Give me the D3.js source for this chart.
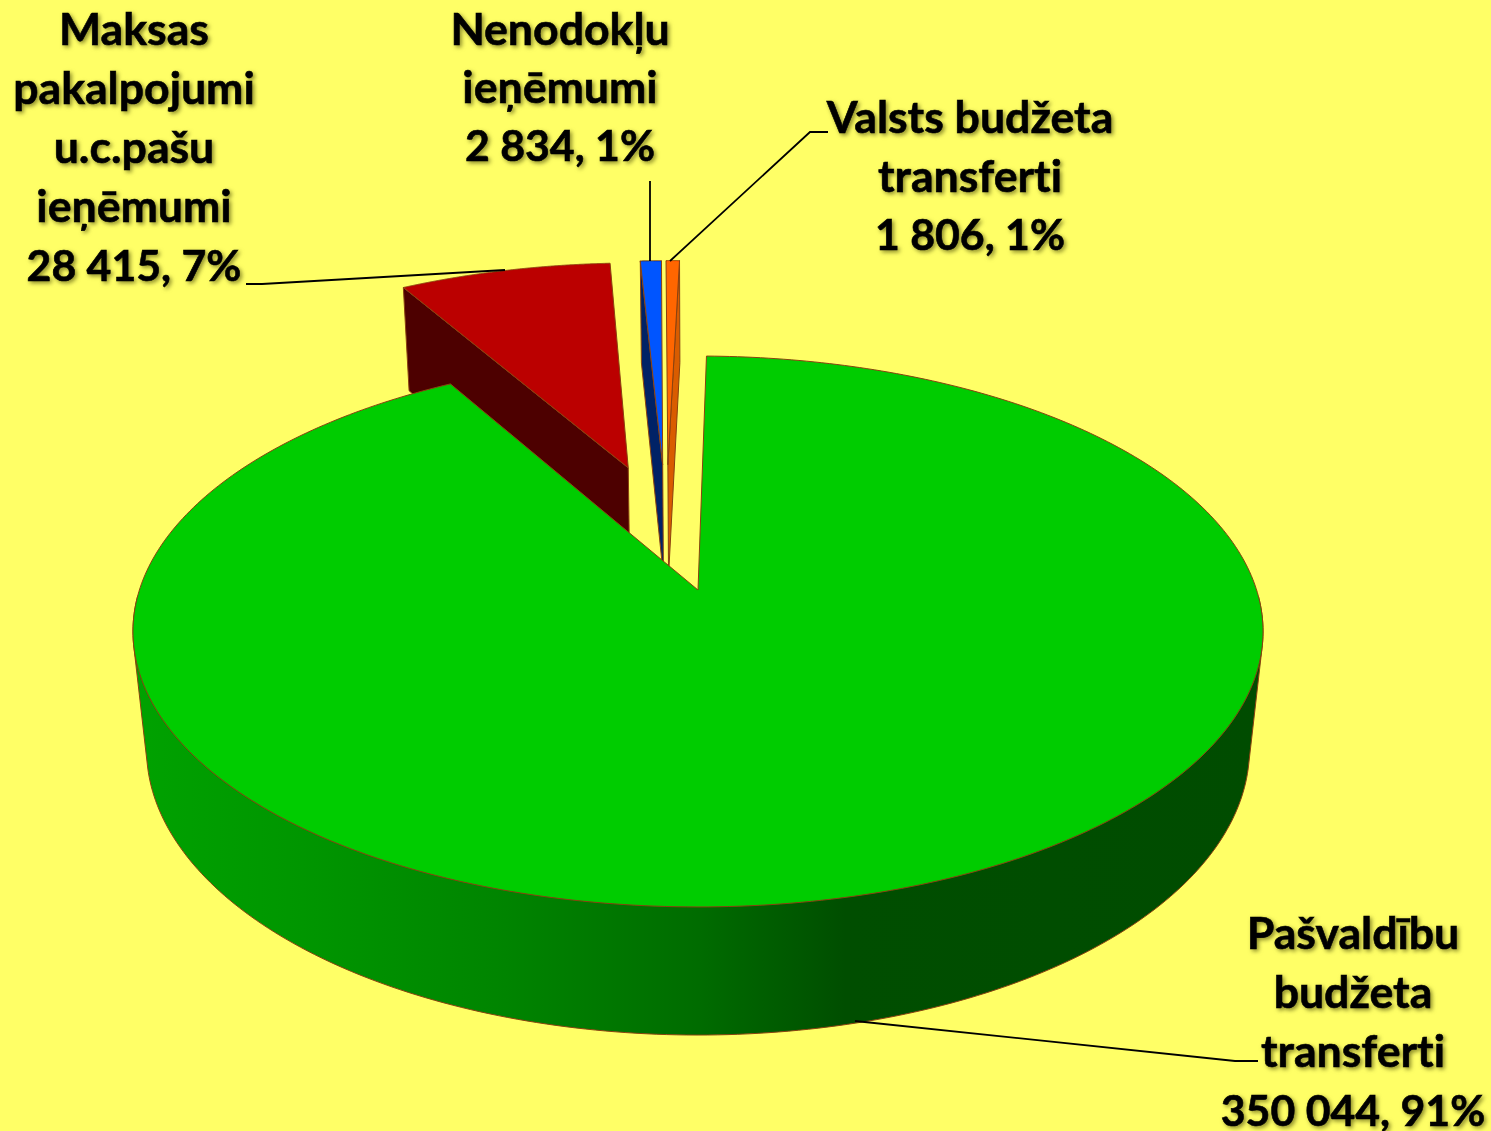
<!DOCTYPE html>
<html>
<head>
<meta charset="utf-8">
<script src="https://cdn.jsdelivr.net/npm/d3@7"></script>
<style>
	html, body { margin: 0; padding: 0; background: #ffff66; }
	svg { display: block; }
	.lab text {
		font-family: Lato, 'Open Sans', sans-serif;
		font-weight: 700;
		font-size: 44.6px;
		font-variant-ligatures: none;
		text-anchor: middle;
		fill: #000;
		stroke: #000;
		stroke-width: 0.6px;
	}
	.lab text.val { font-size: 42.8px; }
	.lab { filter: drop-shadow(2px 2px 2px rgba(60, 60, 0, 0.6)); }
</style>
</head>
<body>
<div id="chart"></div>
<script>
// NOTE chart data
var names = [
	'Pašvaldību budžeta transferti',
	'Maksas pakalpojumi u.c.pašu ieņēmumi',
	'Nenodokļu ieņēmumi',
	'Valsts budžeta transferti'
];
var values = [350044, 28415, 2834, 1806];
var valueLabels = ['350 044, 91%', '28 415, 7%', '2 834, 1%', '1 806, 1%'];
var labelLines = [
	['Pašvaldību', 'budžeta', 'transferti'],
	['Maksas', 'pakalpojumi', 'u.c.pašu', 'ieņēmumi'],
	['Nenodokļu', 'ieņēmumi'],
	['Valsts budžeta', 'transferti']
];

// NOTE styles and layout per slice, same order as values
var topColors = ['#00cc00', '#bb0000', '#0055ff', '#ff6600'];
var sideColors = ['#004c00', '#4d0000', '#002266', '#d95c00'];
var explode = [[0, 0], [-0.134, 0.487], [-0.068, 0.5], [-0.058, 0.5]];
// which cut faces can be seen: 0 start of the slice, 1 end of the slice
var faces = [[], [0], [0], [1]];
var labelPos = [[1353, 949], [134, 45], [560, 45], [970, 133]];
var labelGap = [59, 59, 58, 58.5];
var leaders = [
	[[1258, 1061], [1235, 1061], [855, 1021]],
	[[246, 284], [262, 284], [505, 270]],
	[[650, 181], [650, 261]],
	[[828, 132], [810, 132], [670, 261]]
];

var width = 1491,
	height = 1131;

// NOTE perspective of the disc, fitted to the rim of the big slice
var proj = { cx: 698, cy: 590, kx: 558.6, ky: 269.2, p: 0.1506, q: 0.024, h: 119.5 };

function project(x, y, z) {
	var w = 1 + proj.p * y + proj.q * z;
	return [proj.cx + (proj.kx * x) / w, proj.cy - (proj.ky * y - proj.h * z) / w];
}

function rimPoint(i, a, z) {
	return project(explode[i][0] + Math.sin(a), explode[i][1] + Math.cos(a), z);
}

var svg = d3
	.select('#chart')
	.append('svg')
	.attr('width', width)
	.attr('height', height);

var defs = svg.append('defs');
var wallGrad = defs
	.append('linearGradient')
	.attr('id', 'wall')
	.attr('gradientUnits', 'userSpaceOnUse')
	.attr('x1', 133)
	.attr('x2', 1263)
	.attr('y1', 0)
	.attr('y2', 0);
[
	[0, '#00a200'],
	[0.15, '#009600'],
	[0.33, '#008400'],
	[0.5, '#006c00'],
	[0.63, '#004e00'],
	[1, '#004c00']
].forEach(function (s) {
	wallGrad.append('stop').attr('offset', s[0]).attr('stop-color', s[1]);
});

svg.append('rect').attr('width', width).attr('height', height).attr('fill', '#ffff66');

var pie = d3
	.pie()
	.sort(null)
	.startAngle((1 * Math.PI) / 180)
	.endAngle((361 * Math.PI) / 180);

var arcs = pie(values);
var line = d3.line();
var edge = '#8a4210';

// NOTE small slices behind first, the big one goes on top
var order = [1, 2, 3, 0];

order.forEach(function (i) {
	var d = arcs[i];
	var g = svg.append('g').attr('class', 'slice');
	var apexTop = project(explode[i][0], explode[i][1], 0);
	var apexBot = project(explode[i][0], explode[i][1], 1);

	// radial faces
	faces[i].forEach(function (f) {
		var a = f === 0 ? d.startAngle : d.endAngle;
		g.append('path')
			.attr('d', line([rimPoint(i, a, 0), apexTop, apexBot, rimPoint(i, a, 1)]) + 'Z')
			.attr('fill', sideColors[i])
			.attr('stroke', edge)
			.attr('stroke-width', 1);
	});

	var steps = d3.range(0, 361).map(function (t) {
		return d.startAngle + ((d.endAngle - d.startAngle) * t) / 360;
	});

	// outer wall, only the side towards the viewer shows
	var near = steps.filter(function (a) {
		return Math.cos(a) < -0.02;
	});
	if (near.length > 2) {
		var pts = [];
		near.forEach(function (a) {
			pts.push(rimPoint(i, a, 0));
			pts.push(rimPoint(i, a, 1));
		});
		g.append('path')
			.attr('d', line(d3.polygonHull(pts)) + 'Z')
			.attr('fill', 'url(#wall)')
			.attr('stroke', edge)
			.attr('stroke-width', 1);
	}

	// top face
	var rim = steps.map(function (a) {
		return rimPoint(i, a, 0);
	});
	g.append('path')
		.attr('d', line([apexTop].concat(rim)) + 'Z')
		.attr('fill', topColors[i])
		.attr('stroke', edge)
		.attr('stroke-width', 1);
});

// NOTE leader lines
svg
	.selectAll('.leader')
	.data(leaders)
	.enter()
	.append('path')
	.attr('class', 'leader')
	.attr('d', function (d) {
		return line(d);
	})
	.attr('fill', 'none')
	.attr('stroke', '#000')
	.attr('stroke-width', 1.8);

// NOTE labels
var labs = svg
	.selectAll('.lab')
	.data(names)
	.enter()
	.append('g')
	.attr('class', 'lab')
	.attr('aria-label', function (d) {
		return d;
	});

labs.each(function (d, i) {
	var rows = labelLines[i].concat([valueLabels[i]]);
	d3.select(this)
		.selectAll('text')
		.data(rows)
		.enter()
		.append('text')
		.attr('class', function (r, j) {
			return j === rows.length - 1 ? 'val' : null;
		})
		.attr('x', labelPos[i][0])
		.attr('y', function (r, j) {
			return labelPos[i][1] + j * labelGap[i];
		})
		.text(function (r) {
			return r;
		});
});
</script>
</body>
</html>
